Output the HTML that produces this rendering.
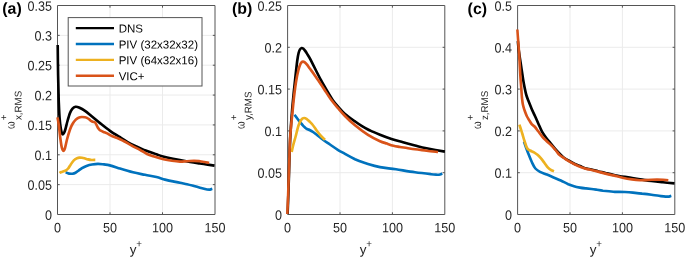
<!DOCTYPE html>
<html><head><meta charset="utf-8"><title>Vorticity RMS profiles</title>
<style>
html,body{margin:0;padding:0;background:#fff;}
body{width:685px;height:258px;overflow:hidden;font-family:"Liberation Sans",sans-serif;}
svg{display:block;will-change:transform;}
</style></head>
<body>
<svg width="685" height="258" viewBox="0 0 685 258" font-family="Liberation Sans, sans-serif">
<rect width="685" height="258" fill="#fff"/>
<!-- panel (a) -->
<path d="M110.00,5.5V214.5 M162.50,5.5V214.5 M57.5,184.64H215.0 M57.5,154.79H215.0 M57.5,124.93H215.0 M57.5,95.07H215.0 M57.5,65.21H215.0 M57.5,35.36H215.0" stroke="#EBEBEB" stroke-width="1" fill="none"/>
<path d="M57.5,5.5H215.0V214.5H57.5Z M110.00,214.5v-2.2M110.00,5.5v2.2 M162.50,214.5v-2.2M162.50,5.5v2.2 M57.5,184.64h2.2M215.0,184.64h-2.2 M57.5,154.79h2.2M215.0,154.79h-2.2 M57.5,124.93h2.2M215.0,124.93h-2.2 M57.5,95.07h2.2M215.0,95.07h-2.2 M57.5,65.21h2.2M215.0,65.21h-2.2 M57.5,35.36h2.2M215.0,35.36h-2.2" stroke="#555555" stroke-width="1" fill="none"/>
<clipPath id="c0"><rect x="56.0" y="5.5" width="160.5" height="210.5"/></clipPath>
<g clip-path="url(#c0)" fill="none" stroke-width="2.65" stroke-linejoin="round" stroke-linecap="butt">
<path d="M57.7,45.0 C57.8,50.0 57.9,65.8 58.1,75.0 C58.3,84.2 58.5,92.8 58.7,100.0 C59.0,107.2 59.2,113.2 59.6,118.0 C60.0,122.8 60.4,126.0 60.8,128.5 C61.2,131.0 61.5,132.0 61.9,133.0 C62.2,134.0 62.5,134.4 62.9,134.4 C63.2,134.4 63.6,133.8 64.0,133.0 C64.4,132.2 64.7,131.5 65.3,129.5 C65.9,127.5 66.7,123.8 67.5,121.0 C68.3,118.2 69.2,115.1 70.0,113.0 C70.8,110.9 71.6,109.6 72.5,108.6 C73.4,107.6 74.4,107.0 75.5,106.8 C76.6,106.6 77.4,106.8 79.0,107.5 C80.6,108.2 82.8,109.3 85.0,110.8 C87.2,112.3 89.5,114.5 92.0,116.5 C94.5,118.5 97.0,120.7 100.0,123.1 C103.0,125.5 106.7,128.5 110.0,130.8 C113.3,133.2 116.2,134.8 120.0,137.2 C123.8,139.6 128.8,142.8 133.0,145.0 C137.2,147.2 141.1,148.6 145.0,150.2 C148.9,151.8 153.7,153.3 156.5,154.3 C159.3,155.3 159.2,155.5 162.0,156.2 C164.8,156.9 169.2,157.9 173.0,158.7 C176.8,159.5 180.5,160.2 185.0,161.0 C189.5,161.8 195.1,162.7 200.0,163.5 C204.9,164.3 212.1,165.2 214.5,165.6" stroke="#000000"/>
<path d="M65.6,172.3 C66.2,172.5 67.8,173.4 69.0,173.6 C70.2,173.8 71.5,173.8 72.6,173.7 C73.7,173.5 74.5,173.2 75.5,172.7 C76.5,172.2 77.3,171.5 78.4,170.7 C79.5,169.9 80.7,168.9 82.0,168.1 C83.3,167.3 84.8,166.5 86.5,165.9 C88.2,165.3 90.1,164.8 92.0,164.5 C93.9,164.2 96.0,163.9 98.0,163.9 C100.0,163.9 102.0,164.2 104.0,164.4 C106.0,164.7 107.1,164.7 109.8,165.4 C112.5,166.1 116.1,167.3 120.0,168.5 C123.9,169.7 128.8,171.2 133.0,172.3 C137.2,173.4 141.1,174.0 145.0,174.8 C148.9,175.6 153.2,176.2 156.5,177.0 C159.8,177.8 162.2,178.9 165.0,179.6 C167.8,180.3 170.5,180.9 173.0,181.4 C175.5,181.9 177.7,182.3 180.0,182.8 C182.3,183.3 184.7,183.7 187.0,184.2 C189.3,184.7 191.8,185.4 194.0,186.0 C196.2,186.6 198.3,187.2 200.0,187.7 C201.7,188.2 202.8,188.5 204.0,188.8 C205.2,189.1 206.0,189.4 207.0,189.5 C208.0,189.6 209.1,189.7 210.0,189.6 C210.9,189.5 211.9,188.9 212.3,188.8" stroke="#0072BD"/>
<path d="M59.5,173.0 C59.8,172.8 60.8,172.3 61.5,172.0 C62.2,171.7 62.8,171.6 63.5,171.3 C64.2,171.0 65.2,170.8 66.0,170.3 C66.8,169.8 67.6,169.2 68.3,168.3 C69.0,167.5 69.6,166.2 70.3,165.2 C71.0,164.1 71.8,162.9 72.5,162.0 C73.2,161.1 74.0,160.1 74.8,159.5 C75.5,158.9 76.2,158.5 77.0,158.2 C77.8,157.9 78.6,157.7 79.4,157.6 C80.2,157.5 81.2,157.6 82.0,157.7 C82.8,157.8 83.5,158.0 84.5,158.3 C85.5,158.6 86.8,159.1 88.0,159.4 C89.2,159.7 90.3,159.9 91.5,160.0 C92.7,160.1 94.7,159.9 95.3,159.9" stroke="#EDB120"/>
<path d="M57.5,117.4 C57.7,118.7 58.3,121.6 58.8,125.0 C59.3,128.4 59.8,134.2 60.3,138.0 C60.8,141.8 61.3,145.4 61.8,147.5 C62.3,149.6 62.9,150.7 63.4,150.8 C63.9,150.9 64.4,149.9 65.0,148.0 C65.6,146.1 66.2,142.6 67.0,139.5 C67.8,136.4 69.1,132.1 70.0,129.5 C70.9,126.9 71.5,125.7 72.5,124.0 C73.5,122.3 74.8,120.6 75.8,119.6 C76.8,118.6 77.5,118.2 78.5,117.8 C79.5,117.4 80.5,117.1 81.6,117.0 C82.7,116.9 84.0,117.1 85.0,117.3 C86.0,117.5 86.7,117.7 87.4,118.1 C88.2,118.5 88.8,119.1 89.5,119.6 C90.2,120.1 90.9,120.8 91.5,121.2 C92.1,121.6 92.7,121.7 93.3,121.9 C93.9,122.1 94.5,121.9 95.0,122.4 C95.5,122.9 96.0,123.9 96.5,124.8 C97.0,125.7 97.4,127.0 97.9,127.8 C98.4,128.6 98.8,129.1 99.3,129.6 C99.8,130.1 100.1,130.3 100.8,130.7 C101.5,131.1 102.5,131.5 103.5,131.9 C104.5,132.3 105.1,132.4 106.6,133.1 C108.1,133.8 110.5,135.4 112.4,136.3 C114.4,137.2 116.4,137.7 118.3,138.5 C120.2,139.3 122.0,140.3 124.0,141.3 C126.0,142.3 128.5,143.8 130.0,144.6 C131.5,145.4 131.3,145.5 133.0,146.4 C134.7,147.3 137.7,148.6 140.0,149.9 C142.3,151.2 144.5,152.8 147.0,154.0 C149.5,155.2 152.2,155.9 155.0,156.8 C157.8,157.7 160.7,158.5 163.5,159.2 C166.3,159.9 169.2,160.4 172.0,160.8 C174.8,161.2 177.5,161.5 180.0,161.6 C182.5,161.7 184.7,161.3 187.0,161.2 C189.3,161.1 191.8,160.8 194.0,160.8 C196.2,160.8 198.2,161.1 200.0,161.3 C201.8,161.5 203.1,161.8 204.6,162.0 C206.1,162.2 208.4,162.7 209.2,162.8" stroke="#D95319"/>
</g>
<g font-size="12.6" fill="#262626">
<text transform="translate(51.90 219.65) rotate(0.05) scale(1 1.07)" font-size="12.6" text-anchor="end">0</text>
<text transform="translate(51.90 189.79) rotate(0.05) scale(1 1.07)" font-size="12.6" text-anchor="end">0.05</text>
<text transform="translate(51.90 159.94) rotate(0.05) scale(1 1.07)" font-size="12.6" text-anchor="end">0.1</text>
<text transform="translate(51.90 130.08) rotate(0.05) scale(1 1.07)" font-size="12.6" text-anchor="end">0.15</text>
<text transform="translate(51.90 100.22) rotate(0.05) scale(1 1.07)" font-size="12.6" text-anchor="end">0.2</text>
<text transform="translate(51.90 70.36) rotate(0.05) scale(1 1.07)" font-size="12.6" text-anchor="end">0.25</text>
<text transform="translate(51.90 40.51) rotate(0.05) scale(1 1.07)" font-size="12.6" text-anchor="end">0.3</text>
<text transform="translate(51.90 10.65) rotate(0.05) scale(1 1.07)" font-size="12.6" text-anchor="end">0.35</text>
<text transform="translate(57.50 232.20) rotate(0.05) scale(1 1.07)" font-size="12.6" text-anchor="middle">0</text>
<text transform="translate(110.00 232.20) rotate(0.05) scale(1 1.07)" font-size="12.6" text-anchor="middle">50</text>
<text transform="translate(162.50 232.20) rotate(0.05) scale(1 1.07)" font-size="12.6" text-anchor="middle">100</text>
<text transform="translate(215.00 232.20) rotate(0.05) scale(1 1.07)" font-size="12.6" text-anchor="middle">150</text>
</g>
<text transform="translate(129.75 254.00) rotate(0.05)" font-size="13.4" fill="#262626">y</text>
<text transform="translate(136.35 247.10) rotate(0.05)" font-size="9.8" fill="#262626">+</text>
<text transform="translate(14.40 128.90) rotate(-89.95)" font-size="12" fill="#262626" textLength="7.6" lengthAdjust="spacingAndGlyphs">ω</text>
<text transform="translate(7.00 120.30) rotate(-89.95)" font-size="9.8" fill="#262626">+</text>
<text transform="translate(21.40 120.10) rotate(-89.95)" font-size="9.8" fill="#262626">x,RMS</text>
<text transform="translate(2.30 13.70) rotate(0.05)" font-size="15.9" font-weight="bold" fill="#000">(a)</text>
<!-- panel (b) -->
<path d="M340.00,5.5V214.5 M392.40,5.5V214.5 M287.6,172.70H444.8 M287.6,130.90H444.8 M287.6,89.10H444.8 M287.6,47.30H444.8" stroke="#EBEBEB" stroke-width="1" fill="none"/>
<path d="M287.6,5.5H444.8V214.5H287.6Z M340.00,214.5v-2.2M340.00,5.5v2.2 M392.40,214.5v-2.2M392.40,5.5v2.2 M287.6,172.70h2.2M444.8,172.70h-2.2 M287.6,130.90h2.2M444.8,130.90h-2.2 M287.6,89.10h2.2M444.8,89.10h-2.2 M287.6,47.30h2.2M444.8,47.30h-2.2" stroke="#555555" stroke-width="1" fill="none"/>
<clipPath id="c1"><rect x="286.1" y="5.5" width="160.2" height="210.5"/></clipPath>
<g clip-path="url(#c1)" fill="none" stroke-width="2.65" stroke-linejoin="round" stroke-linecap="butt">
<path d="M287.6,214.0 C287.8,210.0 288.1,200.7 288.5,190.0 C288.9,179.3 289.3,160.3 289.7,150.0 C290.1,139.7 290.4,134.2 290.8,128.0 C291.2,121.8 291.4,118.5 291.9,113.0 C292.3,107.5 293.0,100.5 293.5,95.0 C294.0,89.5 294.5,85.7 295.1,80.0 C295.7,74.3 296.6,65.5 297.2,61.0 C297.8,56.5 298.1,54.9 298.6,53.0 C299.1,51.1 299.5,50.2 300.0,49.4 C300.5,48.6 301.1,48.1 301.7,48.0 C302.3,47.9 302.8,48.3 303.4,48.7 C303.9,49.1 304.4,49.8 305.0,50.6 C305.6,51.4 306.2,52.3 307.0,53.6 C307.8,54.9 308.7,56.1 310.0,58.6 C311.3,61.1 313.2,64.9 315.0,68.5 C316.8,72.1 319.0,76.5 321.0,80.2 C323.0,83.9 325.0,87.3 327.0,90.7 C329.0,94.1 331.0,97.6 333.0,100.4 C335.0,103.2 337.0,105.3 339.0,107.6 C341.0,109.9 342.3,111.7 345.0,114.0 C347.7,116.3 352.2,119.4 355.0,121.4 C357.8,123.4 359.4,124.6 361.6,125.9 C363.8,127.2 366.1,128.5 368.0,129.5 C369.9,130.5 371.3,131.0 373.3,131.9 C375.3,132.8 377.0,133.5 380.0,134.7 C383.0,135.9 387.7,137.7 391.5,139.0 C395.3,140.3 399.1,141.2 403.0,142.3 C406.9,143.4 411.1,144.5 415.0,145.5 C418.9,146.5 421.5,147.3 426.5,148.3 C431.5,149.3 441.8,151.1 444.9,151.6" stroke="#000000"/>
<path d="M294.5,114.8 C295.1,115.6 296.8,118.0 298.0,119.5 C299.2,121.0 300.6,122.8 301.7,124.0 C302.8,125.2 303.6,126.2 304.5,127.0 C305.4,127.8 306.1,128.5 307.0,129.0 C307.9,129.5 309.0,129.7 310.0,130.2 C311.0,130.7 311.8,131.2 313.0,132.0 C314.2,132.8 315.3,133.7 317.0,135.0 C318.7,136.3 320.8,138.2 323.0,139.8 C325.2,141.4 327.5,142.8 330.0,144.5 C332.5,146.2 335.3,148.2 337.8,149.8 C340.3,151.4 342.1,152.2 345.0,153.8 C347.9,155.4 352.5,157.9 355.0,159.2 C357.5,160.4 357.8,160.5 360.0,161.3 C362.2,162.1 364.7,163.0 368.0,164.0 C371.3,165.0 375.3,166.2 380.0,167.1 C384.7,168.0 390.2,168.4 396.0,169.3 C401.8,170.2 409.2,171.5 415.0,172.3 C420.8,173.1 427.3,173.8 431.0,174.2 C434.7,174.6 435.5,174.6 437.0,174.7 C438.5,174.8 439.1,174.7 440.0,174.5 C440.9,174.3 441.9,173.7 442.3,173.5" stroke="#0072BD"/>
<path d="M291.7,152.0 C291.9,151.0 292.4,148.5 293.0,146.0 C293.6,143.5 294.8,139.5 295.5,137.0 C296.2,134.5 296.5,132.9 297.0,131.0 C297.5,129.1 297.9,127.2 298.5,125.5 C299.1,123.8 299.8,122.2 300.5,121.0 C301.2,119.8 301.9,119.1 302.5,118.6 C303.1,118.1 303.6,118.0 304.3,118.0 C305.0,118.0 305.7,118.3 306.5,118.8 C307.3,119.3 308.1,120.1 309.0,121.0 C309.9,121.9 311.0,122.8 312.0,124.0 C313.0,125.2 314.0,126.6 315.0,128.0 C316.0,129.4 316.9,130.9 318.0,132.3 C319.1,133.7 320.3,135.2 321.5,136.5 C322.7,137.8 324.4,139.2 325.0,139.8" stroke="#EDB120"/>
<path d="M287.3,214.0 C287.5,210.0 288.0,199.0 288.3,190.0 C288.6,181.0 289.0,168.3 289.3,160.0 C289.6,151.7 289.7,145.5 290.0,140.0 C290.3,134.5 290.6,131.5 291.0,127.0 C291.4,122.5 291.9,118.0 292.4,113.0 C292.9,108.0 293.4,102.2 294.0,97.0 C294.6,91.8 295.3,86.4 296.0,82.0 C296.7,77.6 297.6,73.3 298.3,70.5 C299.0,67.7 299.5,66.3 300.0,65.0 C300.5,63.6 301.0,63.0 301.5,62.4 C302.0,61.8 302.4,61.6 303.0,61.6 C303.6,61.6 304.1,61.8 304.8,62.3 C305.5,62.8 306.1,63.5 307.0,64.6 C307.9,65.7 308.8,67.2 310.0,68.8 C311.2,70.4 312.7,72.3 314.0,74.2 C315.3,76.1 316.3,77.5 318.0,80.0 C319.7,82.5 321.9,85.7 324.0,88.9 C326.1,92.1 328.5,96.1 330.8,99.3 C333.1,102.5 335.6,105.3 338.0,108.1 C340.4,110.9 342.2,113.1 345.0,116.0 C347.8,118.9 351.2,122.1 355.0,125.3 C358.8,128.4 363.8,132.2 368.0,134.9 C372.2,137.6 376.8,139.8 380.0,141.2 C383.2,142.6 384.8,142.8 387.0,143.6 C389.2,144.4 391.3,145.2 393.5,145.8 C395.7,146.4 397.8,146.6 400.0,147.0 C402.2,147.4 404.5,147.6 407.0,148.0 C409.5,148.4 411.8,148.9 415.0,149.3 C418.2,149.8 423.5,150.3 426.5,150.7 C429.5,151.1 431.1,151.3 433.0,151.5 C434.9,151.7 437.2,151.9 438.0,152.0" stroke="#D95319"/>
</g>
<g font-size="12.6" fill="#262626">
<text transform="translate(282.00 219.65) rotate(0.05) scale(1 1.07)" font-size="12.6" text-anchor="end">0</text>
<text transform="translate(282.00 177.85) rotate(0.05) scale(1 1.07)" font-size="12.6" text-anchor="end">0.05</text>
<text transform="translate(282.00 136.05) rotate(0.05) scale(1 1.07)" font-size="12.6" text-anchor="end">0.1</text>
<text transform="translate(282.00 94.25) rotate(0.05) scale(1 1.07)" font-size="12.6" text-anchor="end">0.15</text>
<text transform="translate(282.00 52.45) rotate(0.05) scale(1 1.07)" font-size="12.6" text-anchor="end">0.2</text>
<text transform="translate(282.00 10.65) rotate(0.05) scale(1 1.07)" font-size="12.6" text-anchor="end">0.25</text>
<text transform="translate(287.60 232.20) rotate(0.05) scale(1 1.07)" font-size="12.6" text-anchor="middle">0</text>
<text transform="translate(340.00 232.20) rotate(0.05) scale(1 1.07)" font-size="12.6" text-anchor="middle">50</text>
<text transform="translate(392.40 232.20) rotate(0.05) scale(1 1.07)" font-size="12.6" text-anchor="middle">100</text>
<text transform="translate(444.80 232.20) rotate(0.05) scale(1 1.07)" font-size="12.6" text-anchor="middle">150</text>
</g>
<text transform="translate(359.70 254.00) rotate(0.05)" font-size="13.4" fill="#262626">y</text>
<text transform="translate(366.30 247.10) rotate(0.05)" font-size="9.8" fill="#262626">+</text>
<text transform="translate(244.50 128.90) rotate(-89.95)" font-size="12" fill="#262626" textLength="7.6" lengthAdjust="spacingAndGlyphs">ω</text>
<text transform="translate(237.10 120.30) rotate(-89.95)" font-size="9.8" fill="#262626">+</text>
<text transform="translate(251.50 120.10) rotate(-89.95)" font-size="9.8" fill="#262626">y,RMS</text>
<text transform="translate(231.90 13.70) rotate(0.05)" font-size="15.9" font-weight="bold" fill="#000">(b)</text>
<!-- panel (c) -->
<path d="M570.00,5.5V214.5 M622.40,5.5V214.5 M517.6,172.70H674.8 M517.6,130.90H674.8 M517.6,89.10H674.8 M517.6,47.30H674.8" stroke="#EBEBEB" stroke-width="1" fill="none"/>
<path d="M517.6,5.5H674.8V214.5H517.6Z M570.00,214.5v-2.2M570.00,5.5v2.2 M622.40,214.5v-2.2M622.40,5.5v2.2 M517.6,172.70h2.2M674.8,172.70h-2.2 M517.6,130.90h2.2M674.8,130.90h-2.2 M517.6,89.10h2.2M674.8,89.10h-2.2 M517.6,47.30h2.2M674.8,47.30h-2.2" stroke="#555555" stroke-width="1" fill="none"/>
<clipPath id="c2"><rect x="516.1" y="5.5" width="160.19999999999993" height="210.5"/></clipPath>
<g clip-path="url(#c2)" fill="none" stroke-width="2.65" stroke-linejoin="round" stroke-linecap="butt">
<path d="M517.8,41.0 C518.0,42.8 518.5,48.5 519.0,52.0 C519.5,55.5 520.0,59.0 520.5,62.0 C521.0,65.0 521.2,67.0 521.7,70.0 C522.2,73.0 522.7,76.9 523.2,80.0 C523.7,83.1 524.3,86.1 524.8,88.6 C525.3,91.1 525.7,93.0 526.3,95.0 C526.9,97.0 527.4,98.2 528.3,100.5 C529.2,102.8 530.4,105.8 531.5,108.5 C532.6,111.2 534.0,113.9 535.2,116.5 C536.4,119.1 537.4,121.5 538.5,124.0 C539.6,126.5 540.7,129.2 542.0,131.6 C543.3,134.0 544.9,136.1 546.5,138.2 C548.1,140.3 549.8,142.3 551.5,144.4 C553.2,146.5 555.1,148.9 557.0,151.0 C558.9,153.1 561.1,155.4 563.0,157.0 C564.9,158.6 566.5,159.3 568.5,160.5 C570.5,161.7 572.9,163.1 574.8,164.0 C576.7,164.9 578.3,165.3 580.0,166.0 C581.7,166.7 583.1,167.6 585.0,168.2 C586.9,168.8 589.3,169.0 591.5,169.5 C593.7,170.0 595.7,170.6 598.0,171.2 C600.3,171.8 602.7,172.3 605.5,173.0 C608.3,173.7 611.2,174.5 615.0,175.2 C618.8,175.9 623.8,176.7 628.0,177.4 C632.2,178.1 636.1,178.8 640.0,179.4 C643.9,180.0 647.7,180.5 651.5,181.0 C655.3,181.5 659.2,181.9 663.0,182.3 C666.8,182.7 672.6,183.2 674.5,183.4" stroke="#000000"/>
<path d="M524.0,141.6 C524.4,142.7 525.4,145.8 526.2,148.0 C527.0,150.2 527.8,152.3 528.7,154.6 C529.6,156.9 530.7,159.7 531.8,162.0 C532.9,164.3 534.0,166.9 535.4,168.5 C536.8,170.1 538.1,170.8 540.0,171.8 C541.9,172.8 544.7,173.7 546.9,174.6 C549.1,175.5 550.7,176.2 553.0,177.2 C555.3,178.2 558.2,179.3 560.8,180.5 C563.3,181.7 566.1,183.2 568.3,184.2 C570.5,185.1 572.0,185.6 574.0,186.2 C576.0,186.8 578.0,187.2 580.0,187.6 C582.0,188.0 584.1,188.2 586.0,188.4 C587.9,188.6 589.7,188.8 591.5,189.0 C593.3,189.2 595.1,189.5 597.0,189.8 C598.9,190.1 601.0,190.4 603.0,190.7 C605.0,190.9 607.0,191.1 609.0,191.3 C611.0,191.5 613.1,191.8 614.8,191.9 C616.5,192.0 617.3,191.9 619.0,191.9 C620.7,191.9 622.7,191.9 625.0,192.0 C627.3,192.1 630.2,192.3 633.0,192.6 C635.8,192.9 638.9,193.2 642.0,193.6 C645.1,193.9 648.7,194.3 651.5,194.7 C654.3,195.1 656.7,195.5 659.0,195.8 C661.3,196.1 663.8,196.5 665.5,196.6 C667.2,196.7 668.0,196.7 669.0,196.6 C670.0,196.5 670.9,195.9 671.3,195.8" stroke="#0072BD"/>
<path d="M519.4,124.6 C519.6,125.3 520.3,127.4 520.8,129.0 C521.3,130.6 521.8,132.0 522.4,134.0 C523.0,136.0 523.7,138.7 524.5,141.0 C525.3,143.3 526.1,146.4 527.0,148.0 C527.9,149.6 528.8,149.8 530.0,150.5 C531.2,151.2 532.8,151.6 534.0,152.3 C535.2,153.0 536.3,153.8 537.5,154.8 C538.7,155.8 539.8,157.0 541.0,158.4 C542.2,159.8 543.3,161.4 544.5,163.0 C545.7,164.6 546.9,166.5 548.0,167.7 C549.1,168.9 550.0,169.4 551.0,170.0 C552.0,170.6 553.5,171.0 554.0,171.2" stroke="#EDB120"/>
<path d="M517.3,29.5 C517.5,32.1 518.1,39.9 518.5,45.0 C518.9,50.1 519.2,55.0 519.5,60.0 C519.8,65.0 520.0,70.2 520.3,75.0 C520.6,79.8 521.0,84.8 521.3,88.6 C521.6,92.4 521.7,95.3 522.0,98.0 C522.3,100.7 522.5,102.8 523.0,105.0 C523.5,107.2 524.1,109.1 524.8,111.0 C525.5,112.9 526.2,114.9 527.0,116.5 C527.8,118.1 528.6,119.2 529.4,120.5 C530.2,121.8 530.8,123.1 531.7,124.2 C532.6,125.3 534.0,125.9 535.0,127.0 C536.0,128.1 536.8,129.4 538.0,131.0 C539.2,132.6 540.6,134.6 542.0,136.3 C543.4,138.0 544.9,139.4 546.5,141.0 C548.1,142.6 550.0,144.1 551.5,145.6 C553.0,147.1 554.1,148.4 555.5,150.0 C556.9,151.6 558.2,153.7 559.6,155.0 C561.0,156.3 562.5,157.0 564.0,158.0 C565.5,159.0 566.6,159.9 568.3,160.9 C570.0,161.9 572.1,163.1 574.0,164.0 C575.9,164.9 577.6,165.7 579.4,166.4 C581.2,167.1 583.0,167.8 585.0,168.4 C587.0,169.0 589.3,169.5 591.5,170.0 C593.7,170.5 595.7,171.0 598.0,171.6 C600.3,172.2 603.2,173.0 605.5,173.6 C607.8,174.2 610.1,174.7 612.0,175.1 C613.9,175.5 615.1,175.7 617.0,176.2 C618.9,176.7 621.1,177.5 623.6,178.0 C626.1,178.5 629.3,179.0 632.0,179.4 C634.7,179.8 637.7,180.1 640.0,180.2 C642.3,180.3 644.1,180.2 646.0,180.1 C647.9,180.0 649.7,179.9 651.5,179.8 C653.3,179.7 655.1,179.6 657.0,179.6 C658.9,179.6 661.1,179.7 663.0,179.8 C664.9,179.9 667.4,180.1 668.3,180.2" stroke="#D95319"/>
</g>
<g font-size="12.6" fill="#262626">
<text transform="translate(512.00 219.65) rotate(0.05) scale(1 1.07)" font-size="12.6" text-anchor="end">0</text>
<text transform="translate(512.00 177.85) rotate(0.05) scale(1 1.07)" font-size="12.6" text-anchor="end">0.1</text>
<text transform="translate(512.00 136.05) rotate(0.05) scale(1 1.07)" font-size="12.6" text-anchor="end">0.2</text>
<text transform="translate(512.00 94.25) rotate(0.05) scale(1 1.07)" font-size="12.6" text-anchor="end">0.3</text>
<text transform="translate(512.00 52.45) rotate(0.05) scale(1 1.07)" font-size="12.6" text-anchor="end">0.4</text>
<text transform="translate(512.00 10.65) rotate(0.05) scale(1 1.07)" font-size="12.6" text-anchor="end">0.5</text>
<text transform="translate(517.60 232.20) rotate(0.05) scale(1 1.07)" font-size="12.6" text-anchor="middle">0</text>
<text transform="translate(570.00 232.20) rotate(0.05) scale(1 1.07)" font-size="12.6" text-anchor="middle">50</text>
<text transform="translate(622.40 232.20) rotate(0.05) scale(1 1.07)" font-size="12.6" text-anchor="middle">100</text>
<text transform="translate(674.80 232.20) rotate(0.05) scale(1 1.07)" font-size="12.6" text-anchor="middle">150</text>
</g>
<text transform="translate(589.70 254.00) rotate(0.05)" font-size="13.4" fill="#262626">y</text>
<text transform="translate(596.30 247.10) rotate(0.05)" font-size="9.8" fill="#262626">+</text>
<text transform="translate(480.90 128.90) rotate(-89.95)" font-size="12" fill="#262626" textLength="7.6" lengthAdjust="spacingAndGlyphs">ω</text>
<text transform="translate(473.50 120.30) rotate(-89.95)" font-size="9.8" fill="#262626">+</text>
<text transform="translate(487.90 120.10) rotate(-89.95)" font-size="9.8" fill="#262626">z,RMS</text>
<text transform="translate(467.60 14.00) rotate(0.05)" font-size="15.9" font-weight="bold" fill="#000">(c)</text>
<rect x="68.2" y="17.6" width="133.8" height="68.4" fill="#fff" stroke="#555555" stroke-width="1"/>
<path d="M75.8,28.15H114" stroke="#000000" stroke-width="2.4" fill="none"/>
<text transform="translate(118.70 32.55) rotate(0.05)" font-size="11.5" fill="#000">DNS</text>
<path d="M75.8,44.03H114" stroke="#0072BD" stroke-width="2.4" fill="none"/>
<text transform="translate(118.70 48.43) rotate(0.05)" font-size="11.5" fill="#000">PIV (32x32x32)</text>
<path d="M75.8,59.91H114" stroke="#EDB120" stroke-width="2.4" fill="none"/>
<text transform="translate(118.70 64.31) rotate(0.05)" font-size="11.5" fill="#000">PIV (64x32x16)</text>
<path d="M75.8,75.79H114" stroke="#D95319" stroke-width="2.4" fill="none"/>
<text transform="translate(118.70 80.19) rotate(0.05)" font-size="11.5" fill="#000">VIC+</text>
</svg>
</body></html>
